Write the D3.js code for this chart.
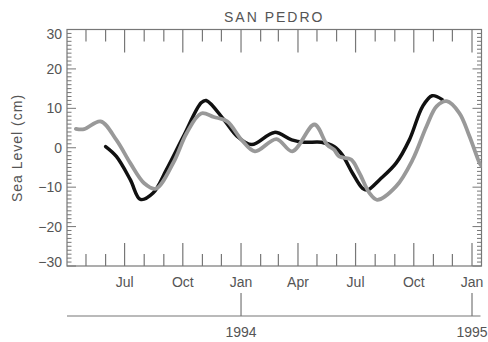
<!DOCTYPE html>
<html>
<head>
<meta charset="utf-8">
<script src="https://cdn.jsdelivr.net/npm/d3@7"></script>
<style>
  body { margin: 0; background: #fff; }
  text { font-family: "Liberation Sans", Arial, sans-serif; fill: #555; }
</style>
</head>
<body>
<div id="chart"></div>
<script>
let width = 488
let height = 342

// -- data
let blackDates = ['1993-06-01', '1993-06-18', '1993-07-10', '1993-07-26', '1993-08-15', '1993-09-05',
  '1993-10-02', '1993-10-30', '1993-11-07', '1993-12-05', '1993-12-26', '1994-01-18', '1994-02-23',
  '1994-03-22', '1994-04-11', '1994-05-08', '1994-05-28', '1994-06-10', '1994-06-26', '1994-07-12',
  '1994-07-20', '1994-08-08', '1994-09-03', '1994-09-24', '1994-10-15', '1994-10-30', '1994-11-15']
let blackValues = [0.3, -2.2, -8.1, -13.1, -11.5, -5.6,
  2.9, 11.4, 12.0, 7.1, 2.9, 0.8, 3.9,
  2.0, 1.4, 1.4, 0.3, -1.8, -6.4, -10.3,
  -10.7, -8.1, -3.9, 2.0, 10.5, 13.2, 12.2]

let grayDates = ['1993-04-15', '1993-04-28', '1993-05-24', '1993-06-18', '1993-07-10', '1993-08-01',
  '1993-08-19', '1993-09-16', '1993-10-07', '1993-10-30', '1993-11-19', '1993-12-10', '1994-01-02',
  '1994-01-23', '1994-02-26', '1994-03-23', '1994-04-27', '1994-05-17', '1994-05-28', '1994-06-05',
  '1994-06-24', '1994-07-07', '1994-07-23', '1994-08-04', '1994-09-03', '1994-09-29', '1994-10-21',
  '1994-11-06', '1994-11-22', '1994-12-12', '1994-12-28', '1995-01-13', '1995-01-16']
let grayValues = [4.8, 4.7, 6.7, 2.0, -3.9, -9.0,
  -10.4, -3.8, 3.7, 8.7, 7.8, 6.7, 2.0,
  -0.9, 2.2, -0.9, 5.9, 0.8, -0.5, -2.2,
  -3.0, -6.4, -11.5, -13.2, -9.8, -3.1, 5.4,
  10.5, 11.8, 8.8, 2.9, -3.9, -4.6]

let yTicks = [-30, -20, -10, 0, 10, 20, 30]
let monthNames = ['Jan', 'Feb', 'Mar', 'Apr', 'May', 'Jun', 'Jul', 'Aug', 'Sep', 'Oct', 'Nov', 'Dec']
let yearTicks = ['1994-01-01', '1995-01-01']

let parse = d3.timeParse('%Y-%m-%d')

let margin = { left: 67, right: 481.5, top: 29.5, bottom: 266 }

let svg = d3.select('#chart')
  .append('svg')
  .attr('width', width)
  .attr('height', height)

let xScale = d3.scaleTime()
  .domain([parse('1993-04-01'), parse('1995-01-16')])
  .range([margin.left, margin.right])

let yScale = d3.scaleLinear()
  .domain([-30, 30])
  .range([margin.bottom, margin.top])

let axisColor = '#777'

// -- frame
svg.append('rect')
  .attr('x', margin.left)
  .attr('y', margin.top)
  .attr('width', margin.right - margin.left)
  .attr('height', margin.bottom - margin.top)
  .attr('fill', 'none')
  .attr('stroke', axisColor)
  .attr('stroke-width', 1.2)

// -- month ticks (bottom + top), quarters longer
let months = d3.timeMonth.range(parse('1993-05-01'), parse('1995-01-02'))
months.forEach(m => {
  let major = m.getMonth() % 3 == 0
  let len = major ? 23 : 12
  let x = xScale(m)
  svg.append('line')
    .attr('x1', x).attr('x2', x)
    .attr('y1', margin.bottom).attr('y2', margin.bottom - len)
    .attr('stroke', axisColor).attr('stroke-width', 1.2)
  svg.append('line')
    .attr('x1', x).attr('x2', x)
    .attr('y1', margin.top).attr('y2', margin.top + len)
    .attr('stroke', axisColor).attr('stroke-width', 1.2)
  if (major) {
    svg.append('text')
      .attr('x', x)
      .attr('y', 287)
      .attr('text-anchor', 'middle')
      .style('font-size', '14px')
      .text(monthNames[m.getMonth()])
  }
})

// -- y ticks, every 1 cm, on both sides pointing in
d3.range(-30, 31).forEach(v => {
  let major = v % 10 == 0
  let len = major ? 9 : 4.5
  let y = yScale(v)
  svg.append('line')
    .attr('x1', margin.left).attr('x2', margin.left + len)
    .attr('y1', y).attr('y2', y)
    .attr('stroke', axisColor).attr('stroke-width', 1)
  svg.append('line')
    .attr('x1', margin.right).attr('x2', margin.right - len)
    .attr('y1', y).attr('y2', y)
    .attr('stroke', axisColor).attr('stroke-width', 1)
})

svg.selectAll('.ylabel')
  .data(yTicks)
  .enter()
  .append('text')
  .attr('class', 'ylabel')
  .attr('x', 62)
  .attr('y', d => yScale(d) + (d == 30 ? 9.5 : d == -30 ? 0.5 : 5))
  .attr('text-anchor', 'end')
  .style('font-size', '14px')
  .text(d => d < 0 ? '\u2212' + Math.abs(d) : d)

// -- title and axis title
svg.append('text')
  .attr('x', (margin.left + margin.right) / 2)
  .attr('y', 21.5)
  .attr('text-anchor', 'middle')
  .style('font-size', '14px')
  .style('letter-spacing', '2px')
  .text('SAN PEDRO')

svg.append('text')
  .attr('transform', 'translate(22, 148) rotate(-90)')
  .attr('text-anchor', 'middle')
  .style('font-size', '14px')
  .style('letter-spacing', '1px')
  .text('Sea Level (cm)')

// -- year axis below
svg.append('line')
  .attr('x1', margin.left).attr('x2', 480.5)
  .attr('y1', 316).attr('y2', 316)
  .attr('stroke', axisColor).attr('stroke-width', 1.2)

yearTicks.forEach(d => {
  let x = xScale(parse(d))
  svg.append('line')
    .attr('x1', x).attr('x2', x)
    .attr('y1', 316).attr('y2', 293)
    .attr('stroke', axisColor).attr('stroke-width', 1.2)
  svg.append('text')
    .attr('x', x)
    .attr('y', 337)
    .attr('text-anchor', 'middle')
    .style('font-size', '14px')
    .text(d.slice(0, 4))
})

// -- series
let line = d3.line()
  .x(d => xScale(d[0]))
  .y(d => yScale(d[1]))
  .curve(d3.curveCatmullRom.alpha(0.5))

let grayData = grayDates.map((d, i) => [parse(d), grayValues[i]])
let blackData = blackDates.map((d, i) => [parse(d), blackValues[i]])

svg.append('defs').append('clipPath')
  .attr('id', 'plotClip')
  .append('rect')
  .attr('x', margin.left).attr('y', margin.top)
  .attr('width', margin.right - margin.left)
  .attr('height', margin.bottom - margin.top)

svg.append('path')
  .datum(blackData)
  .attr('d', line)
  .attr('fill', 'none')
  .attr('stroke', '#111')
  .attr('stroke-width', 3.5)
  .attr('stroke-linecap', 'round')
  .attr('clip-path', 'url(#plotClip)')

svg.append('path')
  .datum(grayData)
  .attr('d', line)
  .attr('fill', 'none')
  .attr('stroke', '#999')
  .attr('stroke-width', 3.8)
  .attr('stroke-linecap', 'round')
  .attr('clip-path', 'url(#plotClip)')
</script>
</body>
</html>
